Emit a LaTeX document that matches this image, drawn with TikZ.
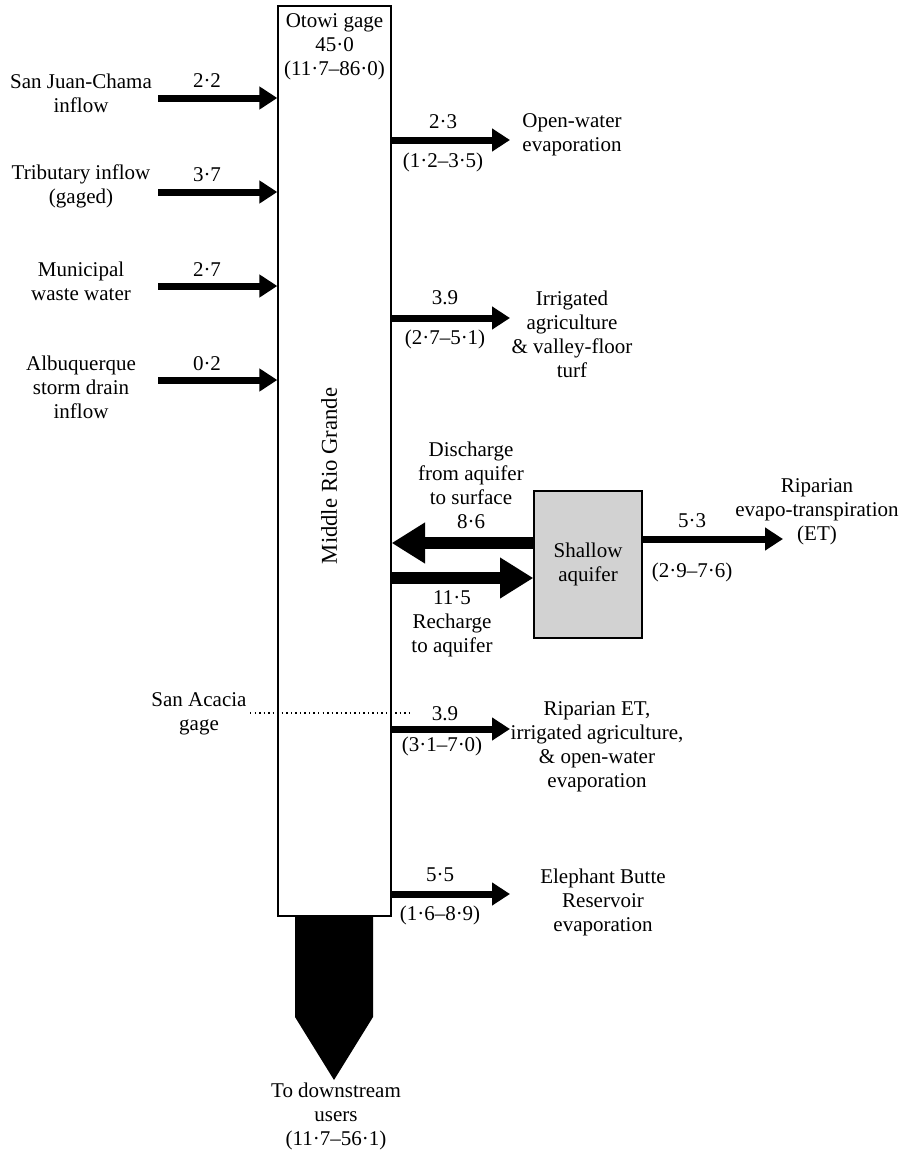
\documentclass[tikz,border=0pt]{standalone}
\usepackage{fontspec}
\setmainfont{Liberation Serif}
\usetikzlibrary{arrows.meta}
\begin{document}
\begin{tikzpicture}[x=0.75pt,y=-0.75pt,
  lbl/.style={font=\fontsize{15.75}{18}\selectfont, align=center, inner sep=0pt},
  thinarrow/.style={line width=5.25pt, -{Triangle[length=13.5pt,width=16.5pt]}},
  thickarrow/.style={line width=9.5pt, -{Triangle[length=25pt,width=29pt]}},
  box/.style={draw, line width=1pt, inner sep=0pt}]
\useasboundingbox (0,0) rectangle (908,1153);

% main river box
\node[box, minimum width=84.75pt, minimum height=682.5pt] (river) at (334.5,461) {};
\node[lbl] (otowi) at (334.5,47) {Otowi gage\\45·0\\(11·7–86·0)};
\node[lbl, rotate=90, font=\fontsize{17}{20}\selectfont] (mrg) at (329,476) {Middle Rio Grande};

% outflow to downstream
\fill (295,916) -- (373,916) -- (373,1017) -- (334,1080) -- (295,1017) -- cycle;
\node[lbl] (down) at (336,1116) {To downstream\\users\\(11·7–56·1)};

% inflows
\coordinate (in1) at (158,98);
\coordinate (in2) at (158,192);
\coordinate (in3) at (158,286);
\coordinate (in4) at (158,380);
\draw[thinarrow] (in1) -- (in1 -| river.west);
\draw[thinarrow] (in2) -- (in2 -| river.west);
\draw[thinarrow] (in3) -- (in3 -| river.west);
\draw[thinarrow] (in4) -- (in4 -| river.west);
\node[lbl] (n1) at (207,81) {2·2};
\node[lbl] (n2) at (207,175) {3·7};
\node[lbl] (n3) at (207,270) {2·7};
\node[lbl] (n4) at (207,364) {0·2};
\node[lbl] (l1) at (81,93) {San Juan-Chama\\inflow};
\node[lbl] (l2) at (81,186) {Tributary inflow\\(gaged)};
\node[lbl] (l3) at (81,281) {Municipal\\waste water};
\node[lbl] (l4) at (81,387) {Albuquerque\\storm drain\\inflow};

% outflows right
\coordinate (o1) at (510,140);
\coordinate (o2) at (510,318);
\coordinate (o3) at (510,729);
\coordinate (o4) at (510,894);
\draw[thinarrow] (o1 -| river.east) -- (o1);
\draw[thinarrow] (o2 -| river.east) -- (o2);
\draw[thinarrow] (o3 -| river.east) -- (o3);
\draw[thinarrow] (o4 -| river.east) -- (o4);
\node[lbl] (v1) at (443,122) {2·3};
\node[lbl] (r1) at (443,162) {(1·2–3·5)};
\node[lbl] (v2) at (445,298) {3.9};
\node[lbl] (r2) at (445,339) {(2·7–5·1)};
\node[lbl] (v3) at (445,714) {3.9};
\node[lbl] (r3) at (442,746) {(3·1–7·0)};
\node[lbl] (v4) at (440,875) {5·5};
\node[lbl] (r4) at (440,915) {(1·6–8·9)};
\node[lbl] (t1) at (572,134.5) {Open-water\\evaporation};
\node[lbl] (t2) at (572,334.5) {Irrigated\\agriculture\\\& valley-floor\\turf};
\node[lbl] (t3) at (597,747) {Riparian ET,\\irrigated agriculture,\\\& open-water\\evaporation};
\node[lbl] (t4) at (603,902) {Elephant Butte\\Reservoir\\evaporation};

% San Acacia gage
\node[lbl] (sa) at (199,714) {San Acacia\\gage};
\coordinate (dl) at (250,713);
\coordinate (dr) at (413,713);
\draw[line width=2pt, dash pattern=on 1.1pt off 2.3pt] (dl) -- (dr);

% shallow aquifer
\node[box, fill=gray!35, minimum width=81pt, minimum height=110.25pt, font=\fontsize{15.75}{18}\selectfont, align=center] (aq) at (588,564.5) {Shallow\\aquifer};
\coordinate (dis) at (0,543);
\coordinate (rec) at (0,578);
\coordinate (et) at (783,539);
\draw[thickarrow] (aq.west |- dis) -- (river.east |- dis);
\draw[thickarrow] (river.east |- rec) -- (aq.west |- rec);
\draw[thinarrow] (aq.east |- et) -- (et);
\node[lbl] (dlab) at (471,485) {Discharge\\from aquifer\\to surface\\8·6};
\node[lbl] (rlab) at (452,624) {11·5\\Recharge\\to aquifer};
\node[lbl] (v5) at (692,521) {5·3};
\node[lbl] (r5) at (692,572) {(2·9–7·6)};
\node[lbl] (etlab) at (817,512) {Riparian\\evapo-transpiration\\(ET)};
\end{tikzpicture}
\end{document}
